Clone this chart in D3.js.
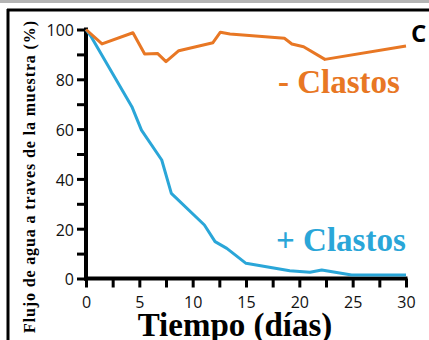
<!DOCTYPE html>
<html>
<head>
<meta charset="utf-8">
<script src="https://cdn.jsdelivr.net/npm/d3@7"></script>
<style>
  html, body { margin: 0; padding: 0; background: #fff; }
  svg { display: block; }
</style>
</head>
<body>
<svg id="chart" width="429" height="340"></svg>
<script>
// Flujo de agua (%) vs tiempo (días), sin y con clastos
const sinClastosDias  = [0, 1.5, 4.4, 5.5, 6.7, 7.5, 8.7, 11.9, 12.6, 13.5, 18.6, 19.3, 20.4, 22.4, 30];
const sinClastosFlujo = [100, 94.2, 98.7, 90.2, 90.4, 87.1, 91.5, 94.7, 98.9, 98.2, 96.5, 94.2, 93.1, 88, 93.4];

const conClastosDias  = [0, 0.5, 4.3, 5.2, 7.1, 8.0, 11.1, 12.1, 13.2, 15.0, 19.1, 21, 22.1, 24.9, 30];
const conClastosFlujo = [100, 97, 69, 59.6, 47.6, 34.2, 21.5, 14.8, 12.1, 6.1, 3.1, 2.5, 3.4, 1.4, 1.4];

const xTicks = [0, 2.5, 5, 7.5, 10, 12.5, 15, 17.5, 20, 22.5, 25, 27.5, 30];
const xTickLabels = [0, 5, 10, 15, 20, 25, 30];
const yTicks = [0, 10, 20, 30, 40, 50, 60, 70, 80, 90, 100];
const yTickLabels = [0, 20, 40, 60, 80, 100];

const svg = d3.select("#chart");
const ORANGE = "#e87724";
const BLUE = "#2aa6d8";

// panel frame
svg.append("rect").attr("x", 0).attr("y", 0).attr("width", 429).attr("height", 3).attr("fill", "#b4b4b4");
svg.append("line").attr("x1", 7).attr("x2", 429).attr("y1", 10).attr("y2", 10)
  .attr("stroke", "#000").attr("stroke-width", 3);
svg.append("line").attr("x1", 8).attr("x2", 8).attr("y1", 9).attr("y2", 340)
  .attr("stroke", "#000").attr("stroke-width", 3);

const x = d3.scaleLinear().domain([0, 30]).range([86, 406]);
const y = d3.scaleLinear().domain([0, 100]).range([278.5, 29.5]);

const tickFont = "'Open Sans', sans-serif";

// y axis
const yAxis = svg.append("g").attr("transform", "translate(86,0)")
  .call(d3.axisLeft(y).tickValues(yTicks).tickSize(9).tickSizeOuter(0).tickPadding(3)
    .tickFormat(d => yTickLabels.includes(d) ? d : ""));
yAxis.select(".domain").attr("stroke", "#000").attr("stroke-width", 4)
  .attr("d", `M0,${y(100) - 2}V${y(0) + 2}`);
yAxis.selectAll(".tick line").attr("stroke", "#000").attr("stroke-width", 3);
yAxis.selectAll(".tick text").attr("font-family", tickFont).attr("font-size", 16)
  .attr("fill", "#111").attr("dy", "0.4em");

// x axis
const xAxis = svg.append("g").attr("transform", `translate(0,${y(0)})`)
  .call(d3.axisBottom(x).tickValues(xTicks).tickSize(9).tickSizeOuter(0).tickPadding(9)
    .tickFormat(d => xTickLabels.includes(d) ? d : ""));
xAxis.select(".domain").attr("stroke", "#000").attr("stroke-width", 4)
  .attr("d", `M${x(0) - 2},0H${x(30) + 1.5}`);
xAxis.selectAll(".tick line").attr("stroke", "#000").attr("stroke-width", 3);
xAxis.selectAll(".tick text").attr("font-family", tickFont).attr("font-size", 16)
  .attr("fill", "#111");

// series lines
const line = d3.line().x(d => x(d[0])).y(d => y(d[1]));
const sinPts = sinClastosDias.map((d, i) => [d, sinClastosFlujo[i]]);
const conPts = conClastosDias.map((d, i) => [d, conClastosFlujo[i]]);

svg.append("path").datum(conPts).attr("d", line).attr("fill", "none")
  .attr("stroke", BLUE).attr("stroke-width", 3).attr("stroke-linejoin", "round");
svg.append("path").datum(sinPts).attr("d", line).attr("fill", "none")
  .attr("stroke", ORANGE).attr("stroke-width", 3).attr("stroke-linejoin", "round");

// labels
const serif = "'Liberation Serif', 'Times New Roman', serif";
svg.append("text").attr("x", 278).attr("y", 93).text("- Clastos")
  .attr("font-family", serif).attr("font-weight", "bold").attr("font-size", 33).attr("fill", ORANGE);
svg.append("text").attr("x", 276).attr("y", 251).text("+ Clastos")
  .attr("font-family", serif).attr("font-weight", "bold").attr("font-size", 33).attr("fill", BLUE);
svg.append("text").attr("x", 235).attr("y", 336).attr("text-anchor", "middle").text("Tiempo (días)")
  .attr("font-family", serif).attr("font-weight", "bold").attr("font-size", 33).attr("fill", "#000");
svg.append("text").attr("transform", "translate(35,177) rotate(-90)").attr("text-anchor", "middle")
  .text("Flujo de agua a traves de la muestra (%)")
  .attr("font-family", serif).attr("font-weight", "bold").attr("font-size", 16)
  .attr("textLength", 312).attr("lengthAdjust", "spacing").attr("fill", "#000");
svg.append("text").attr("x", 411).attr("y", 42).text("C")
  .attr("font-family", "'Open Sans', sans-serif").attr("font-weight", "bold").attr("font-size", 24).attr("fill", "#000");
</script>
</body>
</html>
